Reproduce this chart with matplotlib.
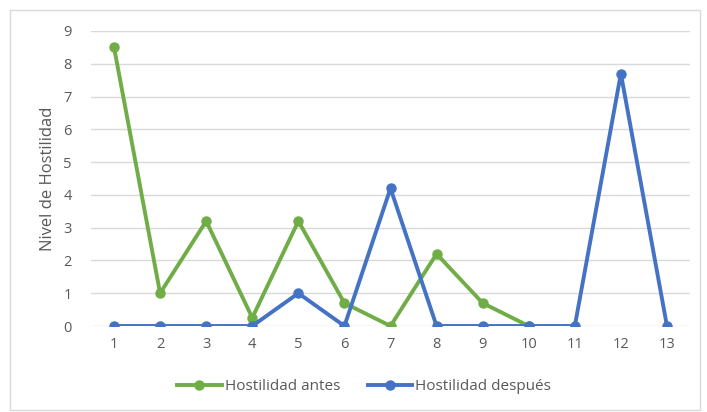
import numpy as np
import matplotlib.pyplot as plt
from matplotlib.patches import Rectangle

# hostility level per participant, before and after
participants = list(range(1, 14))
antes = [8.5, 1, 3.2, 0.25, 3.2, 0.7, 0, 2.2, 0.7, 0, None, None, None]
despues = [0, 0, 0, 0, 1, 0, 4.2, 0, 0, 0, 0, 7.7, 0]
yticks = list(range(0, 10))

GREEN = "#70AD47"
BLUE = "#4472C4"
GRAY = "#595959"

fig = plt.figure(figsize=(7.07, 4.12), dpi=100)
plt.rcParams['font.family'] = ['Open Sans', 'DejaVu Sans']

# light frame around the whole chart
fig.patches.append(Rectangle((10 / 707, 2 / 412), 690 / 707, 400 / 412,
                             transform=fig.transFigure, fill=False,
                             edgecolor="#D9D9D9", linewidth=1))

ax = fig.add_axes([91 / 707, 86 / 412, 599 / 707, 295 / 412])

ya = np.array([np.nan if v is None else v for v in antes], dtype=float)
yd = np.array(despues, dtype=float)

ax.plot(participants, ya, color=GREEN, linewidth=2.8, marker="o",
        markersize=6.5, label="Hostilidad antes", zorder=3)
ax.plot(participants, yd, color=BLUE, linewidth=2.8, marker="o",
        markersize=6.5, label="Hostilidad después", zorder=4)

ax.set_xlim(0.5, 13.5)
ax.set_ylim(0, 9)
ax.set_xticks(participants)
ax.set_yticks(yticks)
ax.grid(axis="y", color="#D9D9D9", linewidth=1)
ax.set_axisbelow(True)
for s in ax.spines.values():
    s.set_visible(False)
ax.tick_params(length=0, labelsize=10.5, labelcolor=GRAY)
ax.tick_params(axis="x", pad=8)
ax.tick_params(axis="y", pad=14)
ax.set_ylabel("Nivel de Hostilidad", fontsize=12, color=GRAY, labelpad=5)

fig.legend(loc="center", bbox_to_anchor=(364 / 707, 25 / 412), ncol=2,
           frameon=False, fontsize=11, handlelength=2.9, handletextpad=0.2,
           columnspacing=1.8, labelcolor=GRAY)

fig.savefig("out.png", dpi=100)
